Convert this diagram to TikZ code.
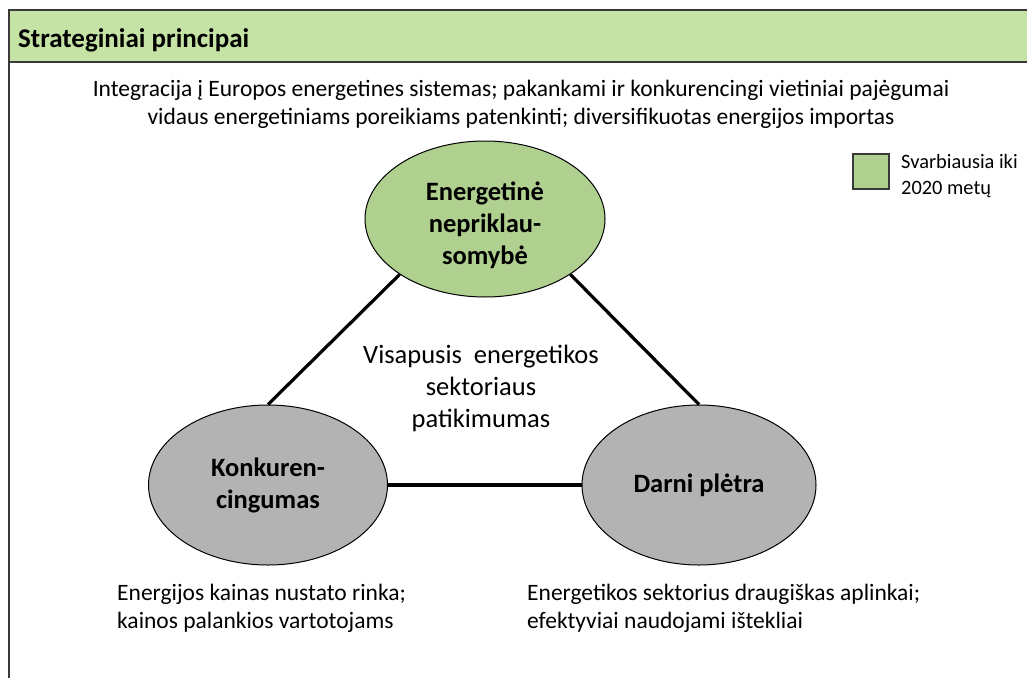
\documentclass[tikz,border=0pt]{standalone}
\usepackage{fontspec}
\setmainfont{Carlito}
\usetikzlibrary{shapes.geometric}
\definecolor{hdrgreen}{HTML}{C4E3A5}
\definecolor{ellgreen}{HTML}{AFD08F}
\definecolor{ellgray}{HTML}{B3B3B3}
\definecolor{frameline}{HTML}{3A3A3A}
\begin{document}
\begin{tikzpicture}[x=1pt,y=-1pt,
  ell/.style={ellipse, draw=black, line width=1pt, inner sep=0pt, align=center,
    font=\bfseries\fontsize{26.5}{32}\selectfont},
  elltxt/.style={inner sep=0pt, align=center, font=\bfseries\fontsize{26.5}{32}\selectfont},
  conn/.style={line width=3.2pt, black},
  plain/.style={inner sep=0pt, font=\fontsize{23.5}{28}\selectfont},
]
\useasboundingbox (0,0) rectangle (1027,677);
% frame and header band
\fill[hdrgreen] (8.5,10) rectangle (1030,62);
\draw[frameline, line width=1.5pt] (8.5,62) -- (1030,62);
\draw[frameline, line width=2pt] (1030,10) -- (8.5,10) -- (8.5,690);
\node[anchor=base west, inner sep=0pt, font=\bfseries\fontsize{27}{32}\selectfont] (hdr) at (18,48) {Strateginiai principai};
% intro text
\node[plain, align=center] (intro) at (521,104.6)
  {Integracija į Europos energetines sistemas; pakankami ir konkurencingi vietiniai pajėgumai\\
   vidaus energetiniams poreikiams patenkinti; diversifikuotas energijos importas};
% legend
\node[draw=frameline, line width=1.3pt, fill=ellgreen, minimum width=36pt, minimum height=35pt, inner sep=0pt] (legbox) at (871,171.5) {};
\node[anchor=west, align=left, inner sep=0pt, font=\fontsize{20.4}{26}\selectfont] (legtext) at (901,176.5) {Svarbiausia iki\\2020 metų};
% ellipses
\node[ell, fill=ellgreen, minimum width=240pt, minimum height=156pt] (indep) at (485,219) {};
\node[elltxt] (indeptext) at ([yshift=-6pt]indep.center) {Energetinė\\nepriklau-\\somybė};
\node[ell, fill=ellgray, minimum width=239pt, minimum height=160pt] (comp) at (268,485) {Konkuren-\\cingumas};
\node[ell, fill=ellgray, minimum width=234pt, minimum height=160pt] (sust) at (699,485) {Darni plėtra};
% connectors
\draw[conn] (indep.213) -- (comp.90);
\draw[conn] (indep.327) -- (sust.90);
\draw[conn] (comp.east) -- (sust.west);
% centre text
\node[align=center, inner sep=0pt, font=\fontsize{26.5}{32}\selectfont] (rel) at (481,388) {Visapusis\ \ energetikos\\sektoriaus\\patikimumas};
% bottom texts
\node[plain, anchor=west, align=left] (comptext) at (117,608) {Energijos kainas nustato rinka;\\kainos palankios vartotojams};
\node[plain, anchor=west, align=left] (susttext) at (527,608) {Energetikos sektorius draugiškas aplinkai;\\efektyviai naudojami ištekliai};
\end{tikzpicture}
\end{document}
